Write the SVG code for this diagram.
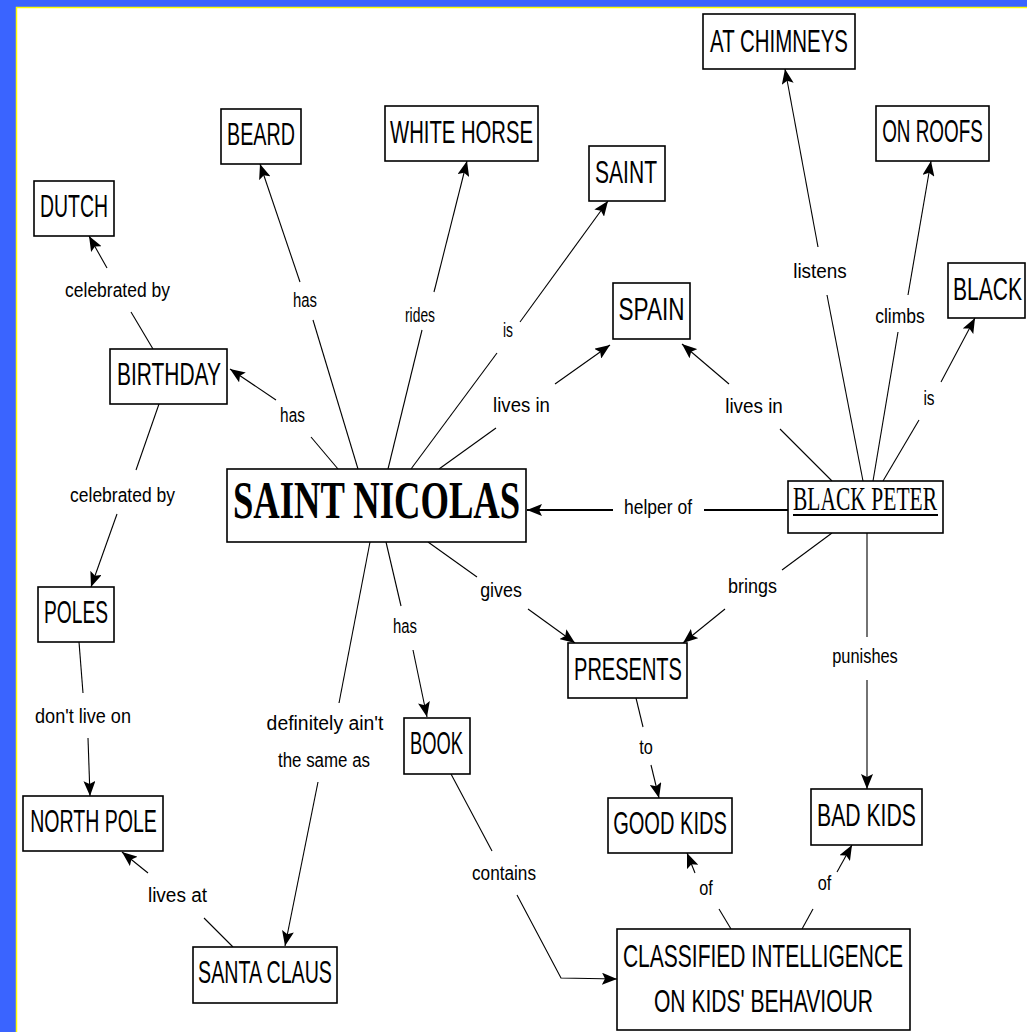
<svg xmlns="http://www.w3.org/2000/svg" width="1027" height="1032" viewBox="0 0 1027 1032">
<defs>
<style>
.box{fill:#fff;stroke:#000;stroke-width:1.6}
.t{font-family:"Liberation Sans",sans-serif;font-size:31px;fill:#000;text-anchor:middle}
.s{font-family:"Liberation Serif","DejaVu Serif",serif;fill:#000;text-anchor:middle}
.l{font-family:"Liberation Sans",sans-serif;font-size:21px;fill:#000;text-anchor:middle}
.c{fill:none;stroke:#000;stroke-width:1.1}
.a{marker-end:url(#ah)}
</style>
<marker id="ah" markerUnits="userSpaceOnUse" markerWidth="16" markerHeight="12" refX="15" refY="6" orient="auto">
<path d="M0,0 L15,6 L0,12 L3,6 z" fill="#000"/>
</marker>
</defs>
<rect x="0" y="0" width="1027" height="1032" fill="#3a64ff"/>
<rect x="16" y="7" width="1011" height="1025" fill="#fff"/>
<path d="M16.5,1032 V7.5 H1027" fill="none" stroke="#ffff00" stroke-width="1.5"/>

<g id="connectors">
<path class="c" d="M153,349 L131,312"/><path class="c a" d="M107,268 L89,236"/>
<path class="c" d="M358,469 L313,320"/><path class="c a" d="M300,282 L260,164"/>
<path class="c" d="M388,469 L422,330"/><path class="c a" d="M434,292 L467,161"/>
<path class="c" d="M411,469 L497,353"/><path class="c a" d="M520,322 L608,201"/>
<path class="c" d="M439,469 L496,428"/><path class="c a" d="M555,384 L610,345"/>
<path class="c" d="M338,469 L311,437"/><path class="c a" d="M276,400 L230,369"/>
<path class="c" d="M159,404 L136,470"/><path class="c a" d="M117,514 L91,587"/>
<path class="c" style="stroke-width:2" d="M788,510 L704,510"/><path class="c a" style="stroke-width:2" d="M613,510 L527,510"/>
<path class="c" d="M428,542 L477,577"/><path class="c a" d="M528,609 L575,643"/>
<path class="c" d="M386,542 L401,606"/><path class="c a" d="M413,650 L427,717"/>
<path class="c" d="M370,542 L339,703"/><path class="c a" d="M318,782 L285,946"/>
<path class="c" d="M79,642 L83,693"/><path class="c a" d="M88,738 L90,796"/>
<path class="c" d="M233,947 L204,918"/><path class="c a" d="M148,873 L122,852"/>
<path class="c" d="M451,774 L492,851"/><path class="c a" d="M517,895 L561,978 L617,979"/>
<path class="c" d="M636,698 L643,727"/><path class="c a" d="M651,765 L659,798"/>
<path class="c" d="M731,929 L719,909"/><path class="c a" d="M695,873 L687,853"/>
<path class="c" d="M802,929 L813,909"/><path class="c a" d="M837,872 L852,845"/>
<path class="c" d="M832,481 L780,429"/><path class="c a" d="M729,384 L682,344"/>
<path class="c" d="M863,481 L827,295"/><path class="c a" d="M818,247 L785,69"/>
<path class="c" d="M873,481 L898,332"/><path class="c a" d="M908,295 L931,161"/>
<path class="c" d="M883,481 L919,420"/><path class="c a" d="M941,382 L975,318"/>
<path class="c" d="M832,533 L782,570"/><path class="c a" d="M725,609 L683,643"/>
<path class="c" d="M867,533 L867,637"/><path class="c a" d="M867,680 L867,789"/>
<g id="labels">
<text class="l" transform="translate(117.5,297) scale(0.8,1)" textLength="131" lengthAdjust="spacingAndGlyphs">celebrated by</text>
<text class="l" transform="translate(305,307) scale(0.8,1)" textLength="30" lengthAdjust="spacingAndGlyphs">has</text>
<text class="l" transform="translate(420,322) scale(0.8,1)" textLength="37.5" lengthAdjust="spacingAndGlyphs">rides</text>
<text class="l" transform="translate(508,337) scale(0.8,1)" textLength="12.5" lengthAdjust="spacingAndGlyphs">is</text>
<text class="l" transform="translate(521.5,412) scale(0.8,1)" textLength="71" lengthAdjust="spacingAndGlyphs">lives in</text>
<text class="l" transform="translate(292.5,422) scale(0.8,1)" textLength="31" lengthAdjust="spacingAndGlyphs">has</text>
<text class="l" transform="translate(122.5,502) scale(0.8,1)" textLength="131" lengthAdjust="spacingAndGlyphs">celebrated by</text>
<text class="l" transform="translate(658,514) scale(0.8,1)" textLength="85" lengthAdjust="spacingAndGlyphs">helper of</text>
<text class="l" transform="translate(501,597) scale(0.8,1)" textLength="52" lengthAdjust="spacingAndGlyphs">gives</text>
<text class="l" transform="translate(405,633) scale(0.8,1)" textLength="30" lengthAdjust="spacingAndGlyphs">has</text>
<text class="l" transform="translate(754,413) scale(0.8,1)" textLength="72" lengthAdjust="spacingAndGlyphs">lives in</text>
<text class="l" transform="translate(929,405) scale(0.8,1)" textLength="14" lengthAdjust="spacingAndGlyphs">is</text>
<text class="l" transform="translate(752.5,593) scale(0.8,1)" textLength="61" lengthAdjust="spacingAndGlyphs">brings</text>
<text class="l" transform="translate(865,663) scale(0.8,1)" textLength="82" lengthAdjust="spacingAndGlyphs">punishes</text>
<text class="l" transform="translate(820,278) scale(0.8,1)" textLength="67" lengthAdjust="spacingAndGlyphs">listens</text>
<text class="l" transform="translate(900,323) scale(0.8,1)" textLength="62" lengthAdjust="spacingAndGlyphs">climbs</text>
<text class="l" transform="translate(83,723) scale(0.8,1)" textLength="120" lengthAdjust="spacingAndGlyphs">don't live on</text>
<text class="l" transform="translate(177.5,902) scale(0.8,1)" textLength="74" lengthAdjust="spacingAndGlyphs">lives at</text>
<text class="l" transform="translate(325,730) scale(0.8,1)" textLength="146" lengthAdjust="spacingAndGlyphs">definitely ain't</text>
<text class="l" transform="translate(324,767) scale(0.8,1)" textLength="115" lengthAdjust="spacingAndGlyphs">the same as</text>
<text class="l" transform="translate(646,754) scale(0.8,1)" textLength="17" lengthAdjust="spacingAndGlyphs">to</text>
<text class="l" transform="translate(504,880) scale(0.8,1)" textLength="80" lengthAdjust="spacingAndGlyphs">contains</text>
<text class="l" transform="translate(706,895) scale(0.8,1)" textLength="17" lengthAdjust="spacingAndGlyphs">of</text>
<text class="l" transform="translate(824.5,890) scale(0.8,1)" textLength="17" lengthAdjust="spacingAndGlyphs">of</text>
</g>
</g>

<g id="dutch"><rect class="box" x="34" y="181" width="80" height="55"/><text class="t" transform="translate(74,217) scale(0.65,1)" textLength="104.6" lengthAdjust="spacingAndGlyphs">DUTCH</text></g>
<g id="beard"><rect class="box" x="221" y="109" width="80" height="55"/><text class="t" transform="translate(261,145) scale(0.65,1)" textLength="104.6" lengthAdjust="spacingAndGlyphs">BEARD</text></g>
<g id="white-horse"><rect class="box" x="385" y="106" width="153" height="55"/><text class="t" transform="translate(461.5,143) scale(0.65,1)" textLength="220" lengthAdjust="spacingAndGlyphs">WHITE HORSE</text></g>
<g id="saint"><rect class="box" x="589" y="146" width="76" height="55"/><text class="t" transform="translate(626,183) scale(0.65,1)" textLength="95.4" lengthAdjust="spacingAndGlyphs">SAINT</text></g>
<g id="spain"><rect class="box" x="613" y="283" width="77" height="56"/><text class="t" transform="translate(651.5,320) scale(0.65,1)" textLength="101.5" lengthAdjust="spacingAndGlyphs">SPAIN</text></g>
<g id="at-chimneys"><rect class="box" x="703" y="14" width="152" height="55"/><text class="t" transform="translate(779,52) scale(0.65,1)" textLength="212" lengthAdjust="spacingAndGlyphs">AT CHIMNEYS</text></g>
<g id="on-roofs"><rect class="box" x="876" y="106" width="113" height="55"/><text class="t" transform="translate(932.5,142) scale(0.65,1)" textLength="155" lengthAdjust="spacingAndGlyphs">ON ROOFS</text></g>
<g id="black"><rect class="box" x="948" y="263" width="77" height="55"/><text class="t" transform="translate(987.5,300) scale(0.65,1)" textLength="106" lengthAdjust="spacingAndGlyphs">BLACK</text></g>
<g id="birthday"><rect class="box" x="110" y="349" width="117" height="55"/><text class="t" transform="translate(169,385) scale(0.65,1)" textLength="160" lengthAdjust="spacingAndGlyphs">BIRTHDAY</text></g>
<g id="saint-nicolas"><rect class="box" x="227" y="469" width="299" height="73"/><text class="s" transform="translate(376.5,518) scale(0.75,1)" font-size="52" font-weight="bold" textLength="383" lengthAdjust="spacingAndGlyphs">SAINT NICOLAS</text></g>
<g id="poles"><rect class="box" x="38" y="587" width="76" height="55"/><text class="t" transform="translate(76,623) scale(0.65,1)" textLength="98.5" lengthAdjust="spacingAndGlyphs">POLES</text></g>
<g id="black-peter"><rect class="box" x="788" y="481" width="155" height="52"/><text class="s" transform="translate(865,510) scale(0.75,1)" font-size="33" textLength="192" lengthAdjust="spacingAndGlyphs">BLACK PETER</text><line x1="793" y1="515" x2="938" y2="515" stroke="#000" stroke-width="2"/></g>
<g id="presents"><rect class="box" x="568" y="643" width="119" height="55"/><text class="t" transform="translate(628,680) scale(0.65,1)" textLength="166" lengthAdjust="spacingAndGlyphs">PRESENTS</text></g>
<g id="north-pole"><rect class="box" x="23" y="796" width="140" height="55"/><text class="t" transform="translate(93.5,832) scale(0.65,1)" textLength="195" lengthAdjust="spacingAndGlyphs">NORTH POLE</text></g>
<g id="santa-claus"><rect class="box" x="193" y="947" width="144" height="56"/><text class="t" transform="translate(265,983) scale(0.65,1)" textLength="206" lengthAdjust="spacingAndGlyphs">SANTA CLAUS</text></g>
<g id="book"><rect class="box" x="404" y="718" width="66" height="56"/><text class="t" transform="translate(436.5,754) scale(0.65,1)" textLength="81.5" lengthAdjust="spacingAndGlyphs">BOOK</text></g>
<g id="good-kids"><rect class="box" x="608" y="798" width="124" height="55"/><text class="t" transform="translate(670,834) scale(0.65,1)" textLength="175" lengthAdjust="spacingAndGlyphs">GOOD KIDS</text></g>
<g id="bad-kids"><rect class="box" x="811" y="789" width="111" height="56"/><text class="t" transform="translate(866.5,826) scale(0.65,1)" textLength="152" lengthAdjust="spacingAndGlyphs">BAD KIDS</text></g>
<g id="classified"><rect class="box" x="617" y="929" width="293" height="101"/><text class="t" transform="translate(763,967) scale(0.65,1)" textLength="431" lengthAdjust="spacingAndGlyphs">CLASSIFIED INTELLIGENCE</text><text class="t" transform="translate(763.5,1012) scale(0.65,1)" textLength="337" lengthAdjust="spacingAndGlyphs">ON KIDS' BEHAVIOUR</text></g>
</svg>
